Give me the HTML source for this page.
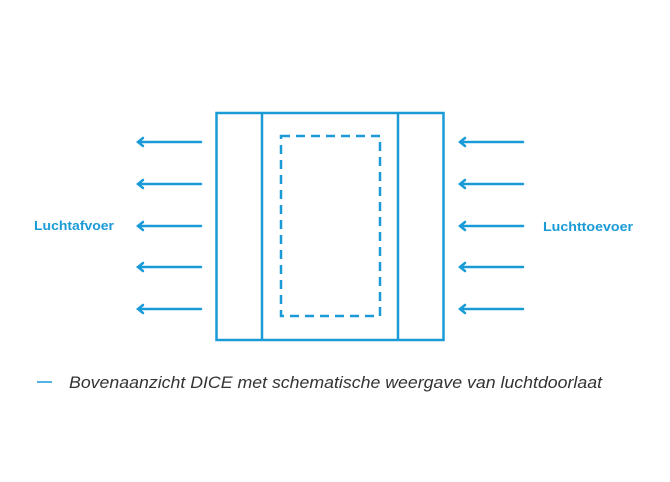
<!DOCTYPE html>
<html><head><meta charset="utf-8"><style>
html,body{margin:0;padding:0;background:#fff;width:670px;height:482px;overflow:hidden}
</style></head><body>
<svg width="670" height="482" viewBox="0 0 670 482" xmlns="http://www.w3.org/2000/svg">
<g stroke="#1a9bd7" stroke-width="2.5" fill="none">
<rect x="216.5" y="113" width="227" height="227"/>
<line x1="262" y1="113" x2="262" y2="340"/>
<line x1="398" y1="113" x2="398" y2="340"/>
<rect x="281" y="136" width="99" height="180" stroke-dasharray="9,6"/>
<g stroke-linecap="round">
<path d="M201 142H138M143 138L138 142L143 146"/>
<path d="M201 184H138M143 180L138 184L143 188"/>
<path d="M201 226H138M143 222L138 226L143 230"/>
<path d="M201 267H138M143 263L138 267L143 271"/>
<path d="M201 309H138M143 305L138 309L143 313"/>
<path d="M523 142H460M465 138L460 142L465 146"/>
<path d="M523 184H460M465 180L460 184L465 188"/>
<path d="M523 226H460M465 222L460 226L465 230"/>
<path d="M523 267H460M465 263L460 267L465 271"/>
<path d="M523 309H460M465 305L460 309L465 313"/>
</g>
<line x1="37" y1="382" x2="52" y2="382" stroke-width="1.5"/>
</g>
<g font-family="Liberation Sans, sans-serif" fill="#1a9bd7" font-weight="bold" font-size="13">
<text x="34" y="230" textLength="80" lengthAdjust="spacingAndGlyphs">Luchtafvoer</text>
<text x="543" y="231" textLength="90" lengthAdjust="spacingAndGlyphs">Luchttoevoer</text>
</g>
<text x="69" y="388" font-family="Liberation Sans, sans-serif" font-style="italic" font-size="17" fill="#333" textLength="533" lengthAdjust="spacingAndGlyphs">Bovenaanzicht DICE met schematische weergave van luchtdoorlaat</text>
</svg>
</body></html>
